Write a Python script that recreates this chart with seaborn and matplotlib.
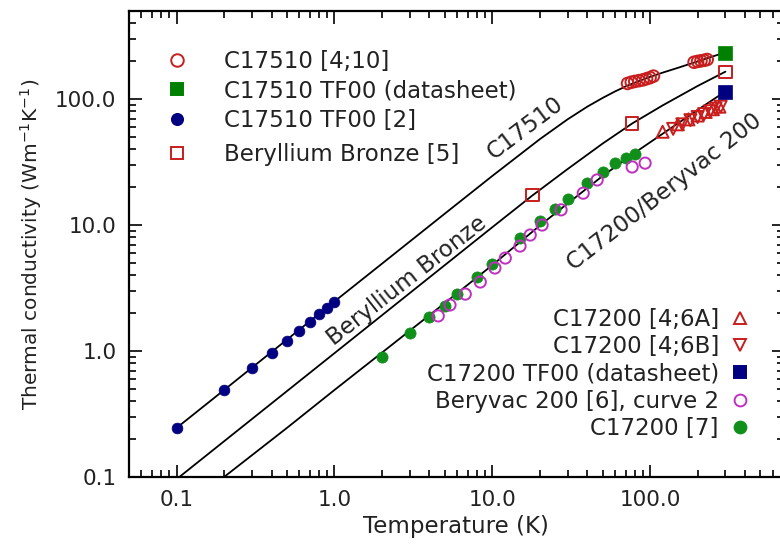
import matplotlib
matplotlib.use("Agg")
import matplotlib.pyplot as plt
import seaborn as sns
from matplotlib.lines import Line2D
from matplotlib.ticker import FixedLocator, LogLocator, NullFormatter, FuncFormatter

# ---------------- data ----------------
# fit curves
c17510_fit_T = [0.1, 0.2, 0.5, 1, 2, 5, 10, 20, 30, 40, 50, 60, 72, 85, 100, 120, 150, 200, 300]
c17510_fit_k = [0.245, 0.49, 1.23, 2.47, 4.93, 12.3, 24.5, 48, 69, 87, 102, 115, 128, 139, 150, 162, 177, 199, 235]

bronze_fit_T = [0.1, 0.2, 0.5, 1, 2, 5, 10, 18, 30, 50, 77, 120, 200, 300]
bronze_fit_k = [0.096, 0.192, 0.48, 0.96, 1.92, 4.8, 9.6, 17.2, 27.8, 44.3, 64, 89, 127, 165]

c17200_fit_T = [0.2, 0.5, 1, 2, 5, 10, 20, 30, 50, 80, 120, 200, 300]
c17200_fit_k = [0.1, 0.245, 0.49, 0.97, 2.4, 4.8, 9.9, 14.8, 24.5, 37.5, 53, 82, 115]

# measured data
c17510_ref4_T = [72, 76, 80, 85, 90, 95, 100, 105, 190, 200, 210, 220, 230]
c17510_ref4_k = [133, 136, 138, 140, 142, 145, 148, 152, 196, 199, 201, 203, 206]

c17510_ds_T = [300]
c17510_ds_k = [232]

c17510_ref2_T = [0.1, 0.2, 0.3, 0.4, 0.5, 0.6, 0.7, 0.8, 0.9, 1.0]
c17510_ref2_k = [0.245, 0.49, 0.73, 0.97, 1.2, 1.45, 1.7, 1.95, 2.2, 2.45]

bronze_ref5_T = [18, 77, 300]
bronze_ref5_k = [17.3, 64, 164]

c17200_6a_T = [120, 150, 175, 200, 225, 250, 275]
c17200_6a_k = [55, 63, 69, 74, 79, 83, 87]

c17200_6b_T = [140, 160, 180, 200, 220, 240, 260, 280]
c17200_6b_k = [58, 63, 68, 72, 76, 80, 84, 87]

c17200_ds_T = [300]
c17200_ds_k = [114]

beryvac_T = [4.55, 5.4, 6.75, 8.4, 10.4, 12.1, 15, 17.4, 20.7, 27.3, 37.7, 46.2, 77, 93]
beryvac_k = [1.9, 2.32, 2.83, 3.53, 4.56, 5.47, 6.81, 8.33, 10, 13.2, 17.9, 22.8, 28.9, 31]

c17200_ref7_T = [2, 3, 4, 5, 6, 8, 10, 15, 20, 25, 30, 40, 50, 60, 70, 80]
c17200_ref7_k = [0.9, 1.39, 1.86, 2.28, 2.83, 3.87, 4.9, 7.9, 10.8, 13.4, 16.1, 21.5, 26.3, 31, 34, 36.6]

x_ticks = [0.1, 1, 10, 100]
y_ticks = [0.1, 1, 10, 100]

# ---------------- style ----------------
sns.set_theme(style="ticks")
plt.rcParams['font.family'] = ['DejaVu Sans']

RED = "#c81e1e"
GREEN = "#008000"
NAVY = "#000080"
MAGENTA = "#c030c0"
GREEN2 = "#10901a"
TXT = "#222222"

fig = plt.figure(figsize=(7.8, 5.47), dpi=100)
ax = fig.add_axes([129 / 780, 70 / 547, (783.5 - 129) / 780, 466 / 547])
ax.set_xscale("log")
ax.set_yscale("log")

# fit curves
for T, k in [(c17510_fit_T, c17510_fit_k), (bronze_fit_T, bronze_fit_k), (c17200_fit_T, c17200_fit_k)]:
    sns.lineplot(x=T, y=k, ax=ax, color="black", lw=1.3, estimator=None, sort=False)

# measured points
sns.scatterplot(x=c17200_ref7_T, y=c17200_ref7_k, ax=ax, marker="o", s=65, color=GREEN2, edgecolor=GREEN2, linewidth=0.5, zorder=3)
sns.scatterplot(x=beryvac_T, y=beryvac_k, ax=ax, marker="o", s=65, facecolors="none", edgecolor=MAGENTA, linewidth=1.4, zorder=3)
sns.scatterplot(x=c17510_ref2_T, y=c17510_ref2_k, ax=ax, marker="o", s=60, color=NAVY, edgecolor=NAVY, linewidth=0.5, zorder=3)
sns.scatterplot(x=c17510_ref4_T, y=c17510_ref4_k, ax=ax, marker="o", s=70, facecolors="none", edgecolor=RED, linewidth=1.4, zorder=3)
sns.scatterplot(x=c17200_6a_T, y=c17200_6a_k, ax=ax, marker="^", s=75, facecolors="none", edgecolor=RED, linewidth=1.4, zorder=3)
sns.scatterplot(x=c17200_6b_T, y=c17200_6b_k, ax=ax, marker="v", s=75, facecolors="none", edgecolor=RED, linewidth=1.4, zorder=3)
sns.scatterplot(x=bronze_ref5_T, y=bronze_ref5_k, ax=ax, marker="s", s=80, facecolors="none", edgecolor=RED, linewidth=1.4, zorder=3)
sns.scatterplot(x=c17510_ds_T, y=c17510_ds_k, ax=ax, marker="s", s=95, color=GREEN, edgecolor=GREEN, linewidth=0.5, zorder=4)
sns.scatterplot(x=c17200_ds_T, y=c17200_ds_k, ax=ax, marker="s", s=95, color=NAVY, edgecolor=NAVY, linewidth=0.5, zorder=4)

ax.set_xlim(0.05, 700)
ax.set_ylim(0.1, 500)

# ticks
fmt = FuncFormatter(lambda v, p: f"{v:.1f}")
for axis, majors in [(ax.xaxis, x_ticks), (ax.yaxis, y_ticks)]:
    axis.set_major_locator(FixedLocator(majors))
    axis.set_minor_locator(LogLocator(base=10, subs=range(2, 10), numticks=20))
    axis.set_major_formatter(fmt)
    axis.set_minor_formatter(NullFormatter())
ax.tick_params(which="both", direction="in", top=True, right=True, color="black", width=1.2)
ax.tick_params(which="major", length=9, labelsize=15.5, pad=9, labelcolor=TXT)
ax.tick_params(which="minor", length=5)
for sp in ax.spines.values():
    sp.set_linewidth(1.6)
    sp.set_color("black")
    sp.set_visible(True)

ax.set_xlabel("Temperature (K)", fontsize=16.5, labelpad=4, color=TXT)
ax.set_ylabel("Thermal conductivity (Wm$^{-1}$K$^{-1}$)", fontsize=14.5, labelpad=8, color=TXT)

# curve labels
ax.text(16.2, 59, "C17510", rotation=37, fontsize=16.5, ha="center", va="center", rotation_mode="anchor", color=TXT)
ax.text(2.9, 3.6, "Beryllium Bronze", rotation=38, fontsize=16.5, ha="center", va="center", rotation_mode="anchor", color=TXT)
ax.text(124, 18.3, "C17200/Beryvac 200", rotation=38, fontsize=16.5, ha="center", va="center", rotation_mode="anchor", color=TXT)

# legends
def h(marker, fc, ec, ms):
    return Line2D([], [], linestyle="none", marker=marker, markerfacecolor=fc, markeredgecolor=ec, markersize=ms, markeredgewidth=1.4)

lkw = dict(frameon=False, fontsize=16.5, handlelength=1.0, labelspacing=0.28, borderpad=0, borderaxespad=0,
           labelcolor=TXT)
leg1 = ax.legend([h("o", "none", RED, 9), h("s", GREEN, GREEN, 9), h("o", NAVY, NAVY, 8)],
                 ["C17510 [4;10]", "C17510 TF00 (datasheet)", "C17510 TF00 [2]"],
                 loc="upper left", bbox_to_anchor=(166 / 780, 1 - 50 / 547), bbox_transform=fig.transFigure,
                 handletextpad=1.55, **lkw)
ax.add_artist(leg1)
leg2 = ax.legend([h("s", "none", RED, 9)], ["Beryllium Bronze [5]"],
                 loc="upper left", bbox_to_anchor=(166 / 780, 1 - 143 / 547), bbox_transform=fig.transFigure,
                 handletextpad=1.55, **lkw)
ax.add_artist(leg2)
lkw["labelspacing"] = 0.19
leg3 = ax.legend([h("^", "none", RED, 9), h("v", "none", RED, 9), h("s", NAVY, NAVY, 9), h("o", "none", MAGENTA, 8.5), h("o", GREEN2, GREEN2, 8.5)],
                 ["C17200 [4;6A]", "C17200 [4;6B]", "C17200 TF00 (datasheet)", "Beryvac 200 [6], curve 2", "C17200 [7]"],
                 loc="lower right", bbox_to_anchor=(751 / 780, 1 - 440 / 547), bbox_transform=fig.transFigure,
                 markerfirst=False, handletextpad=0.4, **lkw)

fig.savefig("out.png", dpi=100)
